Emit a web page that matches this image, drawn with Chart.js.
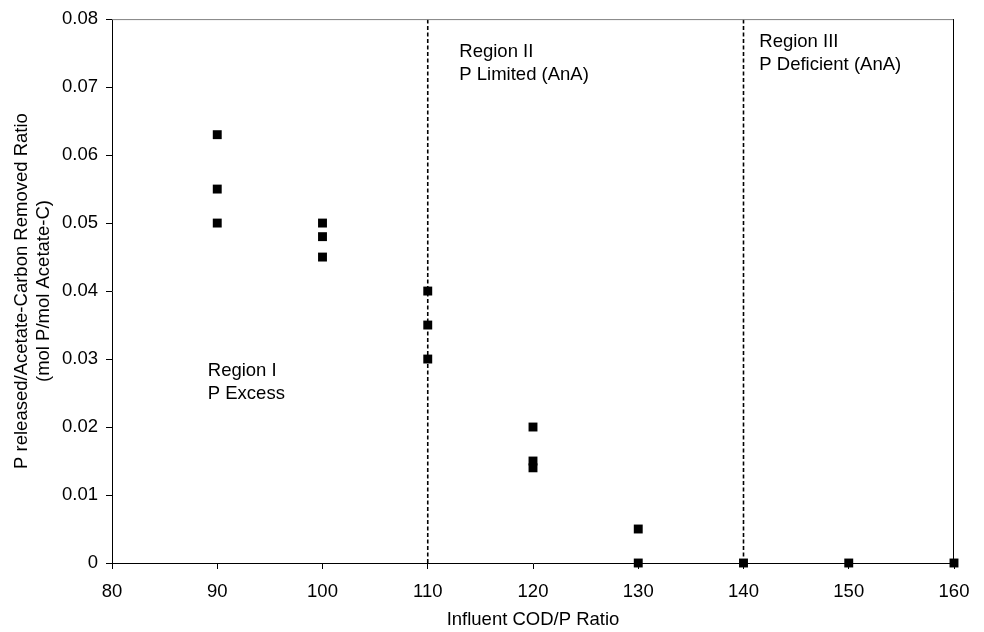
<!DOCTYPE html>
<html>
<head>
<meta charset="utf-8">
<script src="https://cdn.jsdelivr.net/npm/chart.js@4/dist/chart.umd.min.js"></script>
<style>
  html, body { margin: 0; padding: 0; background: #fff; }
  #wrap { width: 984px; height: 632px; }
</style>
</head>
<body>
<div id="wrap"><canvas id="ratioChart"></canvas></div>
<script>
// measured points (COD/P ratio vs P released / acetate-C removed)
const codP = [90, 90, 90, 100, 100, 100, 110, 110, 110, 120, 120, 120, 130, 130, 140, 150, 160];
const pRatio = [0.063, 0.055, 0.05, 0.05, 0.048, 0.045, 0.04, 0.035, 0.03, 0.02, 0.015, 0.014, 0.005, 0, 0, 0, 0];

// region boundaries
const boundaries = [110, 140];
const xTicks = [80, 90, 100, 110, 120, 130, 140, 150, 160];
const yTicks = [0, 0.01, 0.02, 0.03, 0.04, 0.05, 0.06, 0.07, 0.08];

const regionLabels = [
    { x: 89.1, y: 0.0296, lines: ['Region I', 'P Excess'] },
    { x: 113.0, y: 0.0766, lines: ['Region II', 'P Limited (AnA)'] },
    { x: 141.5, y: 0.0780, lines: ['Region III', 'P Deficient (AnA)'] }
];

const FONT = '"Liberation Sans", Arial, sans-serif';
const FSIZE = 18.5;

const points = codP.map((x, i) => ({ x: x, y: pRatio[i] }));

const boundarySets = boundaries.map(b => ({
    type: 'line',
    data: [{ x: b, y: yTicks[0] }, { x: b, y: yTicks[yTicks.length - 1] }],
    borderColor: '#000',
    borderWidth: 1.6,
    borderDash: [4, 2.5],
    pointRadius: 0,
    fill: false,
    order: 2
}));

const framePlugin = {
    id: 'frame',
    afterDatasetsDraw(chart) {
        const { ctx, chartArea: a } = chart;
        ctx.save();
        ctx.lineWidth = 1;
        ctx.strokeStyle = '#808080';
        ctx.beginPath();
        ctx.moveTo(a.left, a.top + 0.5);
        ctx.lineTo(a.right, a.top + 0.5);
        ctx.stroke();
        ctx.strokeStyle = '#000';
        ctx.beginPath();
        ctx.moveTo(a.right - 0.5, a.top);
        ctx.lineTo(a.right - 0.5, a.bottom);
        ctx.stroke();
        ctx.restore();
    }
};

const labelPlugin = {
    id: 'regionText',
    afterDatasetsDraw(chart) {
        const { ctx, scales } = chart;
        ctx.save();
        ctx.font = FSIZE + 'px ' + FONT;
        ctx.fillStyle = '#000';
        ctx.textBaseline = 'top';
        ctx.textAlign = 'left';
        regionLabels.forEach(r => {
            const px = scales.x.getPixelForValue(r.x);
            const py = scales.y.getPixelForValue(r.y);
            r.lines.forEach((t, i) => ctx.fillText(t, px, py + i * 23));
        });
        ctx.restore();
    }
};

new Chart(document.getElementById('ratioChart'), {
    type: 'scatter',
    data: {
        datasets: [{
            label: 'P release ratio',
            data: points,
            pointStyle: 'rect',
            pointRadius: 6.3,
            pointHoverRadius: 6.3,
            backgroundColor: '#000',
            borderColor: '#000',
            borderWidth: 0,
            clip: false,
            order: 1
        }, ...boundarySets]
    },
    options: {
        responsive: true,
        maintainAspectRatio: false,
        animation: false,
        layout: { padding: { left: 0, right: 30, top: 19, bottom: 0 } },
        plugins: {
            legend: { display: false },
            tooltip: { enabled: false }
        },
        scales: {
            x: {
                type: 'linear',
                min: 80,
                max: 160,
                afterBuildTicks: s => { s.ticks = xTicks.map(v => ({ value: v })); },
                afterFit: s => { s.height = 69; },
                grid: { drawOnChartArea: false, tickLength: 6, color: '#000', tickColor: '#000' },
                border: { color: '#000', width: 1 },
                ticks: { color: '#000', font: { family: FONT, size: FSIZE }, padding: 12, maxRotation: 0 },
                title: {
                    display: true,
                    text: 'Influent COD/P Ratio',
                    color: '#000',
                    font: { family: FONT, size: FSIZE },
                    padding: { top: 0, bottom: 1 }
                }
            },
            y: {
                type: 'linear',
                min: 0,
                max: 0.08,
                afterBuildTicks: s => { s.ticks = yTicks.map(v => ({ value: v })); },
                afterFit: s => { s.width = 112; },
                grid: { drawOnChartArea: false, tickLength: 6, color: '#000', tickColor: '#000' },
                border: { color: '#000', width: 1 },
                ticks: {
                    color: '#000',
                    font: { family: FONT, size: FSIZE },
                    padding: 8,
                    callback: v => v === 0 ? '0' : v.toFixed(2)
                },
                title: {
                    display: true,
                    text: ['P released/Acetate-Carbon Removed Ratio', '(mol P/mol Acetate-C)'],
                    color: '#000',
                    font: { family: FONT, size: FSIZE, lineHeight: 1.2 },
                    padding: { top: 11, bottom: 0 }
                }
            }
        }
    },
    plugins: [framePlugin, labelPlugin]
});
</script>
</body>
</html>
